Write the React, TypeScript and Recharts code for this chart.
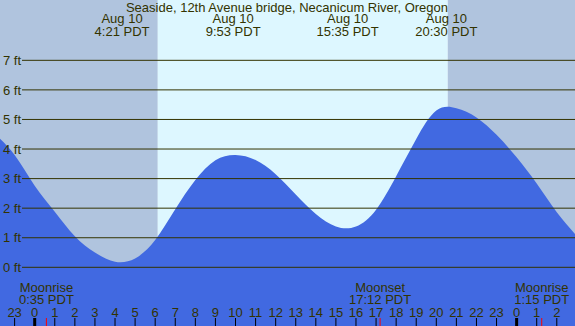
import { ComposedChart, Area, XAxis, YAxis, ReferenceArea, ReferenceLine } from 'recharts';

// tide heights (ft), hourly from 22:00 Aug 9
const hours = [-2, -1, 0, 1, 2, 3, 4, 5, 6, 7, 8, 9, 10, 11, 12, 13, 14, 15, 16, 17, 18, 19, 20, 21, 22, 23, 24, 25, 26, 27];
const tideFt = [4.52, 3.8, 2.76, 1.88, 1.05, 0.5, 0.19, 0.3, 0.92, 1.96, 2.95, 3.62, 3.8, 3.63, 3.15, 2.46, 1.8, 1.38, 1.38, 1.95, 3.08, 4.34, 5.3, 5.38, 5.07, 4.48, 3.72, 2.83, 1.86, 1.06];

const hourTicks = [-1, 0, 1, 2, 3, 4, 5, 6, 7, 8, 9, 10, 11, 12, 13, 14, 15, 16, 17, 18, 19, 20, 21, 22, 23, 24, 25, 26];
const ftTicks = [0, 1, 2, 3, 4, 5, 6, 7];

// hi/lo events shown on top
const tideEventHours = [4.35, 9.883, 15.583, 20.5];
const tideEventTimes = ['4:21 PDT', '9:53 PDT', '15:35 PDT', '20:30 PDT'];

// moon events shown at the bottom
const moonHours = [0.583, 17.2, 25.25];
const moonNames = ['Moonrise', 'Moonset', 'Moonrise'];
const moonTimes = ['0:35 PDT', '17:12 PDT', '1:15 PDT'];

const midnights = [0, 24];
const sunrise = 6.13;
const sunset = 20.57;

const X_MIN = -1.728;
const X_MAX = 26.907;
const Y_MIN = -1.985;
const Y_MAX = 9.04;
const GRID_START = -0.632; // level lines begin just right of the "ft" labels

const TEXT = '#333300';
const FONT = '"Liberation Sans", Arial, sans-serif';
const TITLE = 'Seaside, 12th Avenue bridge, Necanicum River, Oregon';

const data = hours.map((h, i) => ({ h, ft: tideFt[i] }));

export default function App() {
  const TopLabel = ({ viewBox, time }: any) => (
    <text x={viewBox.x} textAnchor="middle" fill={TEXT} fontSize={13} fontFamily={FONT}>
      <tspan x={viewBox.x} y={viewBox.y + 23}>Aug 10</tspan>
      <tspan x={viewBox.x} y={viewBox.y + 36}>{time}</tspan>
    </text>
  );

  const MoonLabel = ({ viewBox, name, time }: any) => {
    const bottom = viewBox.y + viewBox.height;
    return (
      <g>
        <line x1={viewBox.x} x2={viewBox.x} y1={bottom - 8} y2={bottom} stroke="#ff0000" strokeWidth={1} />
        <text x={viewBox.x} textAnchor="middle" fill={TEXT} fontSize={13} fontFamily={FONT}>
          <tspan x={viewBox.x} y={bottom - 34.3}>{name}</tspan>
          <tspan x={viewBox.x} y={bottom - 22}>{time}</tspan>
        </text>
      </g>
    );
  };

  const MidnightMark = ({ viewBox }: any) => {
    const bottom = viewBox.y + viewBox.height;
    return <rect x={viewBox.x - 1.5} y={bottom - 8} width={3} height={8} fill="#000" />;
  };

  return (
    <div style={{ position: 'absolute', left: 0, top: 0, width: 575, height: 326 }}>
      <ComposedChart width={575} height={326} data={data} margin={{ top: 0, right: 0, bottom: 0, left: 0 }}>
        <ReferenceArea x1={X_MIN} x2={sunrise} y1={Y_MIN} y2={Y_MAX} fill="#b0c4de" fillOpacity={1} stroke="none" />
        <ReferenceArea x1={sunrise} x2={sunset} y1={Y_MIN} y2={Y_MAX} fill="#ddf7ff" fillOpacity={1} stroke="none" />
        <ReferenceArea x1={sunset} x2={X_MAX} y1={Y_MIN} y2={Y_MAX} fill="#b0c4de" fillOpacity={1} stroke="none" />
        <XAxis
          dataKey="h"
          type="number"
          domain={[X_MIN, X_MAX]}
          allowDataOverflow
          ticks={hourTicks}
          interval={0}
          mirror
          axisLine={false}
          tickSize={8}
          tickMargin={1}
          tickLine={{ stroke: '#000' }}
          tick={{ fill: TEXT, fontSize: 13, fontFamily: FONT }}
          tickFormatter={(v: number) => String(((v % 24) + 24) % 24)}
        />
        <YAxis
          type="number"
          domain={[Y_MIN, Y_MAX]}
          allowDataOverflow
          ticks={ftTicks}
          interval={0}
          mirror
          axisLine={false}
          tickLine={false}
          tickSize={0}
          tickMargin={3}
          tick={{ fill: TEXT, fontSize: 13, fontFamily: FONT }}
          tickFormatter={(v: number) => `${v} ft`}
        />
        <Area
          type="natural"
          dataKey="ft"
          baseValue={Y_MIN}
          fill="#4169e1"
          fillOpacity={1}
          stroke="none"
          isAnimationActive={false}
        />
        {ftTicks.map((v) => (
          <ReferenceLine
            key={`g${v}`}
            segment={[{ x: GRID_START, y: v }, { x: X_MAX, y: v }]}
            stroke={TEXT}
            strokeWidth={1}
            ifOverflow="visible"
          />
        ))}
        {tideEventHours.map((h, i) => (
          <ReferenceLine key={`t${i}`} x={h} stroke="none" label={<TopLabel time={tideEventTimes[i]} />} />
        ))}
        {moonHours.map((h, i) => (
          <ReferenceLine key={`m${i}`} x={h} stroke="none" label={<MoonLabel name={moonNames[i]} time={moonTimes[i]} />} />
        ))}
        {midnights.map((h) => (
          <ReferenceLine key={`d${h}`} x={h} stroke="none" label={<MidnightMark />} />
        ))}
      </ComposedChart>
      <svg width={575} height={20} style={{ position: 'absolute', left: 0, top: 0, pointerEvents: 'none' }}>
        <text x={287} y={12} textAnchor="middle" fill={TEXT} fontSize={13} fontFamily={FONT}>
          {TITLE}
        </text>
      </svg>
    </div>
  );
}
